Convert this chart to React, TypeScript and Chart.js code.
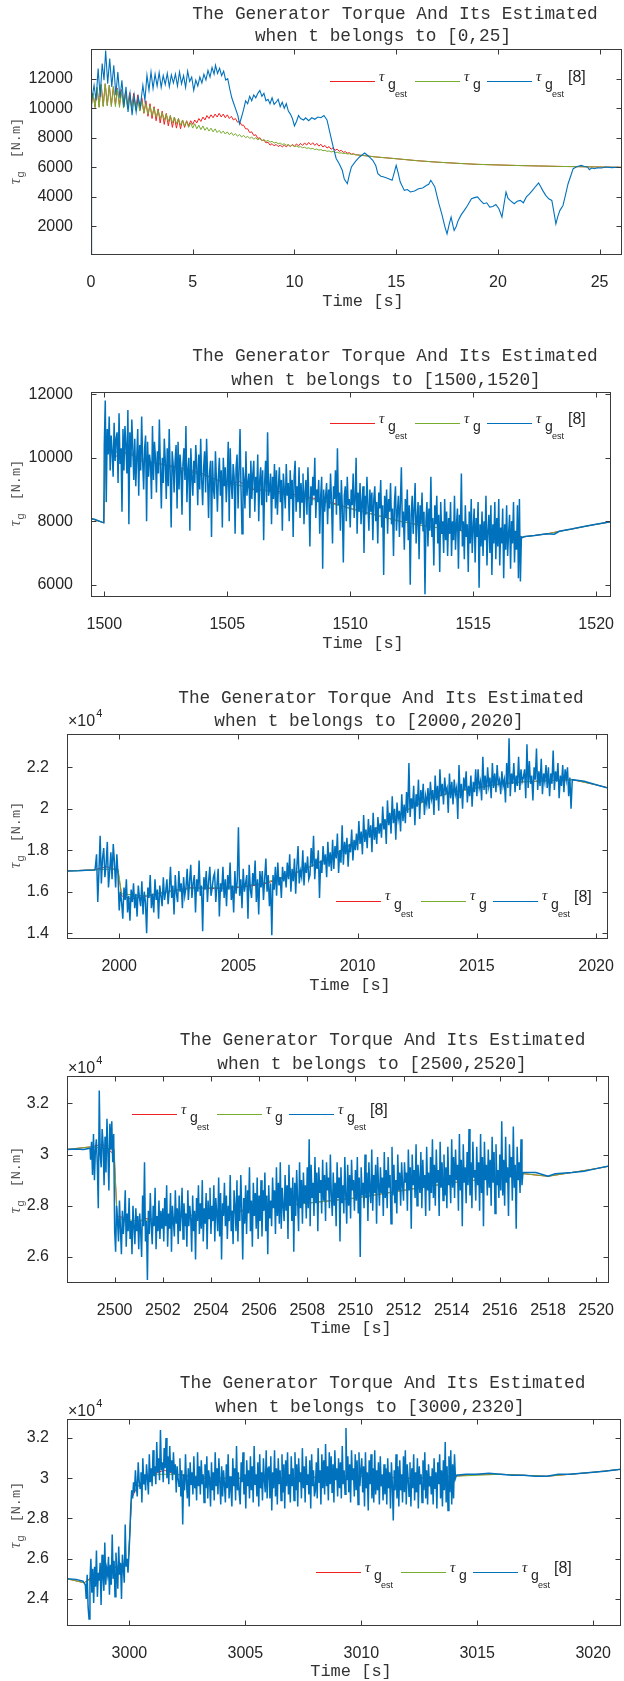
import React, { useEffect, useRef } from "react";
import { Chart, registerables } from "chart.js";
Chart.register(...registerables);

const SANS = "'Liberation Sans', Arial, Helvetica, sans-serif";
const MONO = "'Liberation Mono', 'Courier New', monospace";
const SERIF = "'Liberation Serif', 'Times New Roman', serif";
const RED = "rgb(240,32,32)";
const GREEN = "#77ac30";
const BLUE = "#0072bd";
const INK = "#262626";

// ================= Panel 1 : t in [0,25] =================
const P1_X_TICKS = [0, 5, 10, 15, 20, 25];
const P1_Y_TICKS = [2000, 4000, 6000, 8000, 10000, 12000];
const P1_OSC_T0 = 0;
const P1_OSC_DT = 0.1;
const P1_GREEN_OSC = [
  10000, 11000, 10050, 11400, 10050, 11600, 10100, 11650, 10150, 11550,
  10100, 11450, 10100, 11300, 10050, 11150, 10000, 11000, 9950, 10900,
  9900, 10750, 9850, 10600, 9800, 10450, 9700, 10300, 9600, 10150,
  9500, 10000, 9400, 9850, 9300, 9700, 9200, 9600, 9100, 9500,
  9000, 9400, 8950, 9300, 8850, 9200, 8800, 9100, 8700, 9000,
  8650, 8950, 8600, 8850, 8550, 8800, 8500, 8700, 8450, 8650,
  8400, 8600, 8350, 8500, 8300, 8450, 8250, 8400, 8200, 8350,
  8150, 8280, 8100, 8220, 8050, 8160, 8000, 8100, 7950, 8050,
  7900, 8000, 7850, 7950, 7800, 7880, 7750, 7820, 7700, 7760,
  7640, 7700, 7590, 7640, 7540, 7590, 7490, 7540, 7440, 7490,
  7400, 7440, 7360, 7400, 7320, 7360, 7280, 7320, 7240, 7280,
  7200, 7240, 7160, 7200, 7120, 7150, 7080, 7110, 7040, 7070,
  7000, 7020, 6960, 6980, 6930, 6950, 6900, 6920, 6870, 6880,
  6850,
];
const P1_RED_OSC = [
  10000, 11000, 10050, 11400, 10100, 11600, 10150, 11650, 10200, 11550,
  10200, 11450, 10250, 11350, 10200, 11250, 10200, 11150, 10150, 11050,
  10100, 11000, 10000, 10900, 9850, 10700, 9650, 10500, 9450, 10300,
  9300, 10100, 9150, 9950, 9000, 9800, 8900, 9650, 8800, 9500,
  8700, 9400, 8650, 9300, 8600, 9200, 8700, 9150, 8800, 9150,
  8900, 9200, 9000, 9300, 9100, 9400, 9200, 9500, 9300, 9550,
  9350, 9600, 9400, 9650, 9400, 9600, 9350, 9550, 9300, 9450,
  9200, 9300, 9050, 9100, 8850, 8850, 8600, 8600, 8350, 8400,
  8150, 8200, 7950, 8000, 7800, 7850, 7650, 7700, 7500, 7600,
  7450, 7550, 7400, 7500, 7380, 7500, 7380, 7520, 7400, 7550,
  7420, 7580, 7450, 7620, 7480, 7650, 7500, 7680, 7520, 7660,
  7480, 7620, 7430, 7560, 7370, 7480, 7300, 7400, 7220, 7320,
  7150, 7230, 7080, 7150, 7010, 7060, 6950, 6990, 6890, 6920,
  6850,
];
const P1_TAIL = [
  [13.5, 6780], [14, 6700], [14.5, 6640], [15, 6580], [16, 6450], [17, 6350], [18, 6270],
  [19, 6200], [20, 6160], [21, 6120], [22, 6090], [23, 6060], [24, 6040], [25, 6020], [26.1, 6000],
];
const P1_BLUE = [
  [0, 0], [0.03, 10500], [0.15, 11550], [0.25, 10530], [0.35, 12680], [0.45, 10760], [0.55, 13020],
  [0.64, 11890], [0.72, 13900], [0.82, 11660], [0.92, 13350], [1.02, 11440], [1.12, 12900],
  [1.22, 10870], [1.32, 12450], [1.42, 10650], [1.52, 11890], [1.62, 10080], [1.72, 11440],
  [1.82, 9740], [1.92, 10980], [2.02, 9520], [2.12, 10870], [2.22, 9740], [2.32, 10760],
  [2.42, 10080], [2.55, 11550], [2.65, 10530], [2.75, 12230], [2.85, 11210], [2.95, 12450],
  [3.05, 11320], [3.15, 12300], [3.25, 11500], [3.35, 12400], [3.45, 11400], [3.55, 12200],
  [3.65, 11600], [3.75, 12350], [3.85, 11450], [3.95, 12250], [4.05, 11700], [4.15, 12300],
  [4.25, 11500], [4.35, 12450], [4.45, 11650], [4.55, 12200], [4.65, 11400], [4.75, 12500],
  [4.85, 11800], [4.95, 12100], [5.05, 11200], [5.15, 11900], [5.25, 11500], [5.35, 12100],
  [5.45, 11700], [5.55, 12300], [5.65, 11900], [5.75, 12550], [5.85, 12100], [5.95, 12750],
  [6.05, 12300], [6.12, 12900], [6.22, 12350], [6.32, 12700], [6.42, 12200], [6.52, 12500],
  [6.62, 11900], [6.72, 12000], [6.82, 11300], [6.92, 10700], [7.02, 10300], [7.12, 9900],
  [7.22, 9500], [7.3, 8950], [7.4, 9400], [7.5, 9900], [7.6, 10500], [7.7, 10300], [7.8, 10800],
  [7.9, 10500], [8.0, 10900], [8.1, 10700], [8.2, 11000], [8.3, 11200], [8.4, 10800], [8.5, 11000],
  [8.6, 10500], [8.7, 10600], [8.8, 10300], [8.9, 10700], [9.0, 10250], [9.1, 10400], [9.2, 10600],
  [9.3, 10100], [9.4, 10400], [9.5, 10000], [9.6, 10300], [9.7, 9800], [9.8, 9600], [9.9, 9300],
  [10.0, 8800], [10.1, 9100], [10.2, 9500], [10.3, 9300], [10.45, 9200], [10.55, 9350], [10.7, 9150],
  [10.85, 9350], [11.0, 9250], [11.15, 9400], [11.3, 9350], [11.45, 9500], [11.6, 9200], [11.75, 8300],
  [11.9, 7400], [12.05, 6600], [12.2, 6240], [12.35, 5800], [12.45, 5200], [12.6, 4890], [12.7, 5500],
  [12.8, 6020], [13.0, 6400], [13.2, 6700], [13.45, 6970], [13.6, 6800], [13.85, 6470], [14.0, 6100],
  [14.1, 5570], [14.25, 5400], [14.4, 5340], [14.6, 5250], [14.8, 5120], [14.9, 5600], [15.0, 6130],
  [15.1, 5600], [15.2, 5000], [15.4, 4440], [15.55, 4500], [15.7, 4330], [15.9, 4400], [16.1, 4550],
  [16.3, 4600], [16.5, 4780], [16.6, 4850], [16.7, 5120], [16.8, 4900], [16.9, 4670], [17.0, 4100],
  [17.1, 3540], [17.25, 2800], [17.4, 1960], [17.5, 1500], [17.6, 2100], [17.7, 2630], [17.8, 2000],
  [17.85, 1730], [17.95, 2000], [18.05, 2410], [18.2, 2800], [18.35, 3090], [18.5, 3400], [18.7, 3870],
  [18.85, 3950], [19.0, 4000], [19.15, 3750], [19.3, 3540], [19.45, 3600], [19.6, 3310], [19.75, 3350],
  [19.9, 3490], [20.05, 3200], [20.2, 2630], [20.3, 3500], [20.4, 4330], [20.5, 3900], [20.6, 3760],
  [20.8, 3540], [20.95, 3700], [21.1, 3760], [21.25, 3600], [21.4, 4000], [21.55, 4200], [21.7, 4440],
  [21.85, 4700], [22.0, 4940], [22.1, 4700], [22.2, 4440], [22.35, 4100], [22.5, 3870], [22.65, 3760],
  [22.75, 3000], [22.85, 2180], [22.95, 2700], [23.05, 3090], [23.2, 3420], [23.3, 4000], [23.45, 4890],
  [23.6, 5500], [23.7, 5910], [23.9, 6050], [24.1, 6130], [24.25, 6050], [24.4, 6020], [24.5, 5840],
  [24.6, 5950], [24.75, 5900], [24.9, 5970], [25.1, 5950], [25.3, 6020], [25.6, 5980], [25.9, 6000],
  [26.1, 5970],
];

// ================= Panel 2 : t in [1500,1520] =================
const P2_X_TICKS = [1500, 1505, 1510, 1515, 1520];
const P2_Y_TICKS = [6000, 8000, 10000, 12000];
const P2_RED = [
  [1499.46, 8080], [1499.98, 7950], [1500.05, 10300], [1500.5, 10050], [1501, 10200], [1501.5, 9900],
  [1502, 9850], [1503, 9700], [1504, 9500], [1505, 9150], [1505.5, 9250], [1506, 9000], [1507, 8950],
  [1508, 8800], [1509, 8650], [1510, 8400], [1511, 8200], [1512, 8000], [1513, 7850], [1514, 7750],
  [1515, 7650], [1516, 7550], [1517, 7500], [1517.5, 7550], [1518, 7600], [1518.5, 7680], [1519, 7750],
  [1519.5, 7830], [1520, 7900], [1520.59, 7980],
];
const P2_GREEN = [
  [1499.46, 8080], [1499.98, 7950], [1500.05, 10250], [1501, 10100], [1502, 9850], [1503, 9650],
  [1504, 9450], [1505, 9200], [1506, 9050], [1507, 8900], [1508, 8750], [1509, 8600], [1510, 8400],
  [1511, 8200], [1512, 8000], [1513, 7850], [1514, 7750], [1515, 7650], [1516, 7550], [1517, 7500],
  [1518, 7600], [1519, 7750], [1520, 7900], [1520.59, 7980],
];
const P2_BLUE_PRE = [[1499.46, 8080], [1499.6, 8060], [1499.7, 8030], [1499.8, 8000], [1499.9, 7970], [1499.98, 7950]];
const P2_NOISE_T0 = 1500;
const P2_NOISE_DT = 0.04;
const P2_NOISE = [
  10400, 11800, 8600, 10900, 10100, 11300, 9600, 10700, 10200, 9400, 11100, 9900, 10600, 10800, 9200, 11400, 9800, 10300, 8300, 10900, 9600, 11000, 10400, 9500, 11500,
  7900, 10800, 9700, 11200, 10300, 9300, 10600, 9100, 10000, 10900, 8800, 10400, 9600, 11300, 9900, 9000, 10300, 10700, 8000, 10500, 9400, 10100, 9800, 8700, 11000,
  9300, 10500, 10000, 8900, 10200, 9500, 11200, 9700, 8400, 10000, 9200, 10600, 9900, 8700, 10300, 9100, 10900, 9500, 7800, 10200, 9800, 8900, 9900, 10400, 8400,
  10500, 9000, 10100, 9600, 8200, 9800, 10300, 9300, 11000, 8600, 9600, 10000, 7700, 10300, 9400, 8800, 9900, 9200, 10400, 9700, 8500, 10100, 9000, 10600, 9300,
  8500, 9700, 10200, 8900, 10600, 9400, 8100, 9500, 9900, 7500, 9900, 9000, 8700, 10200, 9300, 8300, 9400, 10000, 8800, 9600, 7800, 10000, 9100, 9700, 8600,
  9300, 10500, 8000, 10300, 9200, 8700, 9800, 9400, 7600, 9700, 10100, 8400, 9600, 10900, 9000, 7600, 9700, 9300, 8400, 10200, 8800, 9200, 9500, 8100, 9900,
  8700, 9500, 9900, 8300, 9400, 8900, 10100, 8000, 9300, 9700, 8500, 9600, 7400, 9200, 9900, 8600, 10800, 8800, 9000, 9500, 7900, 9400, 8700, 9800, 8400,
  9600, 8200, 9100, 9700, 8600, 9300, 7700, 9500, 9000, 8400, 9800, 8800, 9200, 8000, 9600, 8700, 9300, 7500, 9400, 9900, 8300, 9100, 8600, 9700, 8100,
  9200, 8600, 9500, 7900, 8900, 9300, 8200, 9700, 8700, 7200, 9100, 8500, 9400, 8800, 10000, 8100, 9000, 8600, 9300, 7600, 8800, 9400, 6500, 9000, 8300,
  8800, 9200, 7900, 9000, 8400, 9500, 8600, 7300, 9100, 8700, 9600, 8200, 10300, 8500, 8900, 7700, 9300, 8400, 6700, 8800, 9100, 8000, 9400, 8500, 8700,
  7800, 9000, 8500, 9500, 8100, 8700, 10000, 7600, 8900, 8300, 9200, 7900, 8600, 9100, 7000, 8800, 8200, 9400, 8500, 7700, 9000, 8300, 8900, 7400, 8700,
  9100, 8000, 8600, 7300, 8900, 8400, 9300, 7800, 8500, 6300, 8800, 8100, 9000, 7600, 8700, 8300, 9200, 7900, 8400, 6900, 8600, 9100, 7700, 8300, 8800,
  7500, 8600, 9700, 7800, 8300, 7100, 8700, 8000, 9000, 7400, 8500, 6000, 8200, 8800, 7600, 8400, 9200, 7300, 8100, 8600, 6800, 8500, 7900, 8900, 7700,
  8300, 5700, 8000, 8600, 7200, 8400, 7700, 9400, 7500, 8100, 6600, 8500, 7900, 8800, 7300, 8200, 6400, 8600, 7600, 8000, 7000, 8700, 7400, 8300, 6900,
  8100, 7600, 8600, 6900, 8000, 7400, 8800, 7100, 7900, 8400, 6500, 8200, 7700, 9500, 7200, 8000, 6800, 8500, 7500, 7900, 6400, 8300, 7300, 8700, 7000,
  7800, 8400, 6700, 8100, 7500, 8600, 5900, 7900, 7200, 8300, 6900, 8000, 7400, 8800, 6600, 7700, 8200, 7000, 8500, 6300, 7900, 7300, 8600, 6800, 8100,
  7200, 8700, 6600, 7800, 7300, 8400, 6200, 7900, 7100, 8500, 6900, 7600, 8200, 6500, 8000, 7300, 8600, 6700, 7700, 7100, 8500, 6200, 8700, 6100, 7500,
];
const P2_BLUE_POST = [
  [1517.0, 7480], [1517.1, 7520], [1517.5, 7550], [1518, 7600], [1518.3, 7590], [1518.5, 7680],
  [1519, 7750], [1519.5, 7830], [1520, 7900], [1520.59, 7980],
];

// ================= Panel 3 : t in [2000,2020] (x10^4) =================
const P3_X_TICKS = [2000, 2005, 2010, 2015, 2020];
const P3_Y_TICKS = [1.4, 1.6, 1.8, 2, 2.2];
const P3_RED = [
  [1997.81, 1.7], [1998.9, 1.705], [1999.5, 1.72], [1999.95, 1.7], [2000.1, 1.58], [2000.5, 1.565],
  [2001, 1.575], [2002, 1.6], [2003, 1.62], [2004, 1.615], [2005, 1.62], [2006, 1.635], [2007, 1.67],
  [2008, 1.72], [2009, 1.77], [2010, 1.85], [2011, 1.92], [2012, 1.99], [2013, 2.05], [2014, 2.08],
  [2015, 2.1], [2016, 2.12], [2017, 2.13], [2018, 2.135], [2019, 2.14], [2020, 2.115], [2020.5, 2.1],
];
const P3_GREEN = [
  [1997.81, 1.7], [1999, 1.705], [1999.95, 1.71], [2000.1, 1.59], [2001, 1.58], [2002, 1.6],
  [2003, 1.615], [2004, 1.62], [2005, 1.625], [2006, 1.64], [2007, 1.675], [2008, 1.72], [2009, 1.78],
  [2010, 1.85], [2011, 1.925], [2012, 1.99], [2013, 2.045], [2014, 2.08], [2015, 2.1], [2016, 2.12],
  [2017, 2.13], [2018, 2.135], [2019, 2.14], [2020, 2.115], [2020.5, 2.1],
];
const P3_BLUE_PRE = [[1997.81, 1.7], [1998.3, 1.701], [1998.6, 1.703], [1998.98, 1.705]];
const P3_NOISE_T0 = 1999;
const P3_NOISE_DT = 0.05;
const P3_NOISE = [
  1.72, 1.78, 1.55, 1.70, 1.87, 1.64, 1.76, 1.81, 1.67, 1.73, 1.84, 1.62, 1.70, 1.79, 1.66, 1.83, 1.74, 1.62, 1.78, 1.68,
  1.51, 1.60, 1.55, 1.47, 1.62, 1.56, 1.66, 1.50, 1.58, 1.46, 1.61, 1.55, 1.64, 1.52, 1.59, 1.48, 1.63, 1.57, 1.53, 1.65,
  1.49, 1.60, 1.55, 1.40, 1.62, 1.57, 1.68, 1.52, 1.59, 1.50, 1.66, 1.56, 1.61, 1.47, 1.63, 1.58, 1.53, 1.67, 1.56, 1.60,
  1.66, 1.54, 1.61, 1.72, 1.57, 1.63, 1.49, 1.68, 1.59, 1.55, 1.70, 1.60, 1.64, 1.52, 1.67, 1.58, 1.62, 1.71, 1.56, 1.65,
  1.73, 1.57, 1.64, 1.68, 1.50, 1.66, 1.60, 1.75, 1.58, 1.63, 1.41, 1.67, 1.61, 1.70, 1.55, 1.65, 1.72, 1.58, 1.62, 1.67,
  1.69, 1.55, 1.63, 1.71, 1.48, 1.64, 1.60, 1.72, 1.57, 1.66, 1.53, 1.68, 1.61, 1.74, 1.56, 1.63, 1.50, 1.70, 1.59, 1.65,
  1.91, 1.58, 1.66, 1.52, 1.71, 1.60, 1.64, 1.68, 1.47, 1.73, 1.61, 1.57, 1.69, 1.63, 1.75, 1.55, 1.66, 1.49, 1.70, 1.62,
  1.70, 1.56, 1.66, 1.76, 1.60, 1.68, 1.53, 1.64, 1.39, 1.68, 1.61, 1.72, 1.58, 1.74, 1.63, 1.67, 1.57, 1.72, 1.65, 1.70,
  1.62, 1.74, 1.66, 1.78, 1.60, 1.71, 1.65, 1.76, 1.59, 1.72, 1.82, 1.64, 1.70, 1.67, 1.80, 1.63, 1.74, 1.69, 1.77, 1.66,
  1.68, 1.81, 1.72, 1.87, 1.66, 1.76, 1.71, 1.80, 1.57, 1.75, 1.69, 1.82, 1.73, 1.78, 1.67, 1.84, 1.72, 1.79, 1.70, 1.85,
  1.71, 1.82, 1.76, 1.88, 1.69, 1.80, 1.74, 1.92, 1.73, 1.84, 1.78, 1.86, 1.72, 1.83, 1.79, 1.90, 1.75, 1.85, 1.80, 1.88,
  1.80, 1.94, 1.83, 1.89, 1.78, 1.97, 1.84, 1.90, 1.81, 1.95, 1.86, 1.92, 1.79, 1.98, 1.85, 1.91, 1.83, 1.96, 1.88, 1.93,
  1.86, 2.01, 1.90, 1.95, 1.83, 2.04, 1.92, 1.98, 1.88, 2.06, 1.93, 2.00, 1.85, 2.03, 1.95, 1.99, 1.89, 2.07, 1.94, 2.02,
  1.93, 2.08, 1.98, 2.22, 1.96, 2.05, 2.00, 2.11, 1.92, 2.07, 2.01, 2.14, 1.95, 2.09, 2.03, 2.12, 1.97, 2.06, 2.02, 2.10,
  2.00, 2.13, 2.05, 2.09, 1.97, 2.16, 2.04, 2.11, 1.99, 2.19, 2.06, 2.12, 2.02, 2.15, 2.08, 2.10, 1.98, 2.17, 2.05, 2.13,
  2.02, 2.14, 2.07, 2.10, 1.95, 2.21, 2.05, 2.12, 2.00, 2.15, 2.09, 2.18, 2.03, 2.11, 2.06, 2.16, 2.01, 2.13, 2.08, 2.19,
  2.06, 2.19, 2.10, 2.13, 2.04, 2.25, 2.09, 2.16, 2.07, 2.20, 2.11, 2.15, 2.05, 2.22, 2.10, 2.17, 2.08, 2.21, 2.12, 2.14,
  2.07, 2.18, 2.11, 2.14, 2.03, 2.22, 2.10, 2.34, 2.06, 2.17, 2.12, 2.22, 2.08, 2.16, 2.11, 2.25, 2.09, 2.19, 2.13, 2.15,
  2.19, 2.05, 2.31, 2.10, 2.23, 2.12, 2.16, 2.04, 2.20, 2.14, 2.29, 2.09, 2.18, 2.11, 2.24, 2.07, 2.17, 2.13, 2.21, 2.10,
  2.20, 2.06, 2.17, 2.12, 2.28, 2.09, 2.18, 2.13, 2.22, 2.05, 2.16, 2.11, 2.21, 2.08, 2.19, 2.14, 2.20, 2.06, 2.15, 2.00,
];
const P3_BLUE_POST = [[2019.0, 2.14], [2019.5, 2.132], [2020, 2.115], [2020.5, 2.1]];

// ================= Panel 4 : t in [2500,2520] (x10^4) =================
const P4_X_TICKS = [2500, 2502, 2504, 2506, 2508, 2510, 2512, 2514, 2516, 2518, 2520];
const P4_Y_TICKS = [2.6, 2.8, 3, 3.2];
const P4_RED = [
  [2498.02, 3.02], [2499, 3.03], [2499.5, 3.04], [2499.98, 3.0], [2500.1, 2.76], [2500.5, 2.75],
  [2500.8, 2.72], [2501.2, 2.75], [2502, 2.745], [2503, 2.76], [2504, 2.77], [2505, 2.775], [2506, 2.79],
  [2506.5, 2.81], [2507, 2.8], [2508, 2.81], [2509, 2.82], [2510, 2.83], [2511, 2.845], [2512, 2.86],
  [2513, 2.875], [2514, 2.89], [2515, 2.9], [2516, 2.91], [2517, 2.925], [2518, 2.915], [2519, 2.93],
  [2520, 2.945], [2520.54, 2.955],
];
const P4_GREEN = [
  [2498.02, 3.02], [2499, 3.03], [2499.98, 3.02], [2500.1, 2.75], [2501, 2.74], [2502, 2.75],
  [2504, 2.77], [2506, 2.79], [2508, 2.81], [2510, 2.83], [2512, 2.86], [2514, 2.89], [2516, 2.91],
  [2517, 2.925], [2518, 2.915], [2519, 2.93], [2520, 2.945], [2520.54, 2.955],
];
const P4_BLUE_PRE = [[2498.02, 3.02], [2498.4, 3.022], [2498.7, 3.02], [2498.98, 3.025]];
const P4_NOISE_T0 = 2499;
const P4_NOISE_DT = 0.04;
const P4_NOISE = [
  2.98, 3.05, 2.92, 3.08, 2.90, 3.02, 3.06, 2.96, 2.79, 3.25, 3.00, 2.95, 3.10, 3.04, 2.88, 3.07, 2.93, 3.14, 3.01, 2.86, 3.12, 3.02, 3.13, 2.97, 3.08,
  2.70, 2.62, 2.80, 2.74, 2.66, 2.82, 2.71, 2.61, 2.78, 2.69, 2.75, 2.86, 2.64, 2.77, 2.70, 2.83, 2.67, 2.74, 2.61, 2.80, 2.72, 2.65, 2.79, 2.70, 2.76,
  2.63, 2.77, 2.70, 2.60, 2.84, 2.72, 2.97, 2.66, 2.74, 2.51, 2.78, 2.69, 2.85, 2.73, 2.65, 2.80, 2.72, 2.87, 2.63, 2.76, 2.70, 2.82, 2.67, 2.78, 2.71,
  2.79, 2.66, 2.83, 2.72, 2.88, 2.64, 2.77, 2.71, 2.85, 2.62, 2.80, 2.74, 2.68, 2.86, 2.73, 2.79, 2.65, 2.84, 2.70, 2.76, 2.87, 2.67, 2.81, 2.72, 2.77,
  2.64, 2.86, 2.72, 2.80, 2.75, 2.62, 2.84, 2.70, 2.78, 2.59, 2.83, 2.74, 2.88, 2.69, 2.81, 2.71, 2.90, 2.66, 2.79, 2.73, 2.85, 2.63, 2.82, 2.75, 2.87,
  2.69, 2.80, 2.74, 2.88, 2.66, 2.83, 2.77, 2.70, 2.91, 2.68, 2.85, 2.59, 2.81, 2.76, 2.89, 2.72, 2.84, 2.67, 2.80, 2.74, 2.92, 2.70, 2.78, 2.65, 2.86,
  2.80, 2.70, 2.90, 2.66, 2.84, 2.74, 2.92, 2.78, 2.59, 2.83, 2.73, 2.88, 2.69, 2.86, 2.77, 2.95, 2.70, 2.82, 2.64, 2.89, 2.76, 2.85, 2.71, 2.91, 2.67,
  2.84, 2.74, 2.90, 2.68, 2.86, 2.78, 2.93, 2.70, 2.84, 2.61, 2.88, 2.75, 2.82, 2.72, 2.91, 2.79, 2.86, 2.69, 2.95, 2.76, 2.89, 2.73, 2.97, 2.71, 2.87,
  2.80, 2.74, 2.92, 2.78, 2.88, 2.67, 2.96, 2.80, 2.87, 2.74, 2.91, 2.62, 2.89, 2.76, 2.94, 2.82, 2.70, 2.97, 2.79, 2.90, 2.73, 2.93, 2.81, 2.88, 2.75,
  2.95, 2.79, 3.06, 2.72, 2.96, 2.83, 2.89, 2.76, 2.99, 2.81, 2.93, 2.70, 2.95, 2.85, 2.90, 2.77, 2.98, 2.82, 2.92, 2.74, 2.97, 2.86, 2.91, 2.79, 3.00,
  2.84, 2.76, 2.93, 2.80, 2.89, 2.72, 2.97, 2.83, 2.91, 2.66, 2.95, 2.81, 2.88, 2.77, 2.99, 2.84, 2.73, 2.96, 2.80, 2.92, 2.75, 2.98, 2.86, 2.90, 2.78,
  2.94, 2.82, 2.99, 2.77, 2.91, 2.60, 2.95, 2.84, 2.89, 2.79, 3.00, 2.83, 2.93, 2.74, 2.97, 2.86, 2.81, 3.02, 2.78, 2.92, 2.85, 2.96, 2.73, 2.99, 2.88,
  2.80, 2.95, 2.85, 2.91, 2.76, 3.01, 2.83, 2.94, 2.79, 2.99, 2.87, 2.92, 2.73, 3.03, 2.84, 2.96, 2.81, 2.90, 2.77, 3.00, 2.86, 2.93, 2.80, 2.97, 2.88,
  2.82, 2.97, 2.89, 2.93, 2.78, 3.02, 2.86, 2.95, 2.71, 3.00, 2.88, 2.94, 2.83, 3.04, 2.80, 2.96, 2.90, 2.85, 3.01, 2.79, 2.98, 2.87, 2.92, 2.76, 3.03,
  2.86, 2.93, 2.78, 2.99, 2.85, 3.06, 2.83, 2.96, 2.80, 3.02, 2.89, 2.94, 2.76, 3.05, 2.87, 2.97, 2.82, 3.00, 2.84, 2.95, 2.79, 3.03, 2.88, 2.92, 2.81,
  3.06, 2.87, 2.99, 2.83, 3.02, 2.90, 2.96, 2.78, 3.08, 2.86, 2.98, 2.72, 3.04, 2.89, 2.95, 2.81, 3.01, 2.88, 3.10, 2.84, 2.97, 2.79, 3.05, 2.91, 2.94,
  2.82, 3.03, 2.88, 2.97, 2.78, 3.08, 2.85, 2.99, 2.72, 3.05, 2.90, 2.96, 2.84, 3.02, 2.87, 2.98, 2.80, 3.07, 2.89, 3.01, 2.77, 3.04, 2.88, 2.94, 2.83,
  3.00, 2.86, 3.13, 2.84, 2.98, 2.80, 3.07, 2.89, 2.95, 2.76, 3.04, 2.91, 2.99, 2.82, 3.11, 2.87, 2.96, 2.71, 3.03, 2.90, 2.97, 2.85, 3.06, 2.88, 2.93,
];
const P4_BLUE_POST = [
  [2517.0, 2.93], [2517.5, 2.93], [2518, 2.915], [2518.3, 2.925], [2519, 2.93], [2519.5, 2.935],
  [2520, 2.945], [2520.54, 2.955],
];

// ================= Panel 5 : t in [3000,2320] (x10^4) =================
const P5_X_TICKS = [3000, 3005, 3010, 3015, 3020];
const P5_Y_TICKS = [2.4, 2.6, 2.8, 3, 3.2];
const P5_RED = [
  [2997.31, 2.5], [2998.05, 2.48], [2998.5, 2.52], [2999, 2.54], [2999.5, 2.56], [2999.95, 2.58],
  [3000.1, 2.9], [3000.3, 2.95], [3000.6, 2.99], [3001, 3.02], [3001.5, 3.04], [3002, 3.02], [3003, 3.0],
  [3004, 3.0], [3005, 3.0], [3006, 2.995], [3007, 3.0], [3008, 3.005], [3009, 3.01], [3010, 3.01],
  [3011, 3.005], [3012, 3.0], [3013, 3.0], [3014, 3.01], [3015, 3.02], [3016, 3.02], [3017, 3.015],
  [3018, 3.01], [3019, 3.02], [3020, 3.03], [3021.2, 3.045],
];
const P5_GREEN = [
  [2997.31, 2.5], [2998.05, 2.48], [2999, 2.545], [2999.95, 2.58], [3000.1, 2.92], [3000.5, 2.98],
  [3001, 3.02], [3002, 3.02], [3004, 3.0], [3006, 3.0], [3008, 3.005], [3010, 3.01], [3012, 3.0],
  [3014, 3.01], [3016, 3.02], [3018, 3.01], [3020, 3.03], [3021.2, 3.045],
];
const P5_BLUE_PRE = [[2997.31, 2.5], [2997.7, 2.497], [2998.0, 2.488], [2998.05, 2.48]];
const P5_NOISE_T0 = 2998.1;
const P5_NOISE_DT = 0.04;
const P5_NOISE = [
  2.47, 2.40, 2.52, 2.36, 2.30, 2.49, 2.60, 2.43, 2.55, 2.38, 2.56, 2.46, 2.64, 2.41, 2.53, 2.49, 2.58, 2.37, 2.62, 2.51, 2.44, 2.68, 2.47, 2.55,
  2.52, 2.61, 2.42, 2.57, 2.47, 2.72, 2.50, 2.59, 2.41, 2.63, 2.54, 2.45, 2.66, 2.52, 2.58, 2.40, 2.62, 2.55, 2.48, 2.77, 2.56, 2.60, 2.53, 2.62,
  2.72, 2.86, 2.94, 2.90, 2.98, 2.93, 3.04, 2.96, 2.91, 3.08, 2.99, 2.95, 3.03, 2.88, 3.10, 2.97, 3.02, 2.94, 3.07, 3.00, 2.92, 3.12, 2.98, 3.05, 2.96,
  3.14, 3.01, 3.06, 2.97, 3.18, 3.03, 3.10, 2.99, 3.24, 3.04, 3.08, 2.98, 3.15, 3.05, 3.20, 3.00, 3.11, 2.97, 3.16, 3.03, 3.09, 2.99, 3.13, 3.02, 3.07,
  2.93, 3.06, 3.00, 2.96, 3.10, 2.91, 3.04, 2.77, 3.02, 2.94, 3.12, 2.98, 2.90, 3.05, 2.86, 3.08, 2.97, 3.03, 2.92, 3.11, 2.95, 3.01, 2.89, 3.13, 2.96,
  3.06, 2.92, 3.09, 2.97, 3.02, 2.88, 3.07, 2.95, 3.11, 2.90, 3.04, 2.99, 2.86, 3.08, 2.94, 3.03, 2.89, 3.13, 2.96, 3.05, 2.92, 3.10, 2.98, 2.87, 3.06,
  2.91, 3.04, 2.97, 2.88, 3.07, 2.95, 3.12, 2.90, 3.01, 2.94, 2.86, 3.10, 2.96, 3.05, 2.89, 3.16, 2.94, 3.03, 2.92, 2.87, 3.08, 2.98, 3.13, 2.92, 3.02,
  2.85, 3.09, 2.96, 3.04, 2.90, 3.11, 2.94, 3.06, 2.88, 3.16, 2.97, 3.02, 2.91, 3.08, 2.86, 3.12, 2.95, 3.03, 2.89, 3.10, 2.99, 2.93, 3.14, 2.90, 3.05,
  3.06, 2.90, 3.11, 2.84, 3.03, 2.95, 3.14, 2.91, 3.05, 2.87, 3.10, 2.97, 3.04, 2.89, 3.12, 2.93, 3.07, 2.85, 3.09, 2.96, 3.13, 2.92, 3.02, 2.88, 3.11,
  2.96, 3.05, 2.89, 3.13, 2.94, 3.07, 2.86, 3.10, 2.98, 3.03, 2.90, 3.15, 2.95, 3.06, 2.88, 3.11, 2.97, 3.02, 2.92, 3.09, 2.85, 3.12, 2.96, 3.04, 2.91,
  2.94, 3.08, 2.90, 3.15, 2.98, 3.04, 2.87, 3.12, 2.95, 3.09, 2.92, 3.17, 2.96, 3.06, 2.89, 3.13, 2.97, 3.11, 2.93, 3.07, 2.88, 3.14, 2.99, 3.05, 2.91,
  3.10, 2.95, 3.08, 2.90, 3.16, 2.97, 3.04, 2.92, 3.25, 2.99, 3.11, 2.93, 3.07, 2.88, 3.14, 2.99, 3.05, 2.91, 3.12, 2.94, 3.09, 2.87, 3.13, 2.96, 3.04,
  3.10, 2.93, 3.06, 2.86, 3.13, 2.95, 3.03, 2.84, 3.09, 2.97, 3.12, 2.90, 3.05, 2.88, 3.14, 2.92, 3.04, 2.94, 3.08, 2.87, 3.11, 2.96, 3.02, 2.89, 3.07,
  2.92, 3.05, 2.87, 3.10, 2.95, 3.03, 2.85, 3.08, 2.97, 2.79, 3.04, 2.94, 3.12, 2.90, 3.06, 2.86, 3.09, 2.94, 3.02, 2.88, 3.11, 2.93, 3.14, 2.87, 3.07,
  3.00, 2.91, 3.08, 2.86, 3.05, 2.95, 3.12, 2.89, 3.03, 2.93, 3.10, 2.85, 3.06, 2.97, 3.02, 2.88, 3.09, 2.94, 3.13, 2.90, 3.04, 2.87, 3.07, 2.96, 3.01,
  2.92, 3.05, 2.87, 3.10, 2.95, 3.03, 2.85, 3.08, 2.97, 3.12, 2.90, 3.04, 2.86, 3.09, 2.94, 3.18, 2.88, 3.06, 2.84, 3.11, 2.93, 3.14, 2.87, 3.07, 2.90, 3.12, 3.00,
];
const P5_BLUE_POST = [
  [3014.1, 3.015], [3014.5, 3.02], [3015, 3.02], [3015.5, 3.025], [3016, 3.02], [3016.5, 3.015],
  [3017, 3.015], [3017.5, 3.01], [3018, 3.01], [3018.5, 3.02], [3019, 3.02], [3019.5, 3.025],
  [3020, 3.03], [3020.5, 3.035], [3021.2, 3.045],
];

// ================= helpers =================
type Pt = { x: number; y: number };
const pairs = (a: number[][]): Pt[] => a.map(([x, y]) => ({ x, y }));
const sampled = (t0: number, dt: number, vals: number[]): Pt[] =>
  vals.map((y, i) => ({ x: Math.round((t0 + i * dt) * 1000) / 1000, y }));

type PanelCfg = {
  top: number; height: number;
  area: { l: number; t: number; r: number; b: number };
  xMin: number; xMax: number; yMin: number; yMax: number;
  xTicks: number[]; yTicks: number[];
  red: Pt[]; green: Pt[]; blue: Pt[]; blueWidth: number;
  title1: string; title2: string;
  t1: [number, number]; t2: [number, number];
  xlab: [number, number]; ylabY: number;
  legend: [number, number];
  exp: null | { y: number; ySup: number };
};

const TITLE1 = "The Generator Torque And Its Estimated";

const PANELS: PanelCfg[] = [
  {
    top: 0, height: 336, area: { l: 91, t: 49, r: 622, b: 255 },
    xMin: 0, xMax: 26.1, yMin: 70, yMax: 14000, xTicks: P1_X_TICKS, yTicks: P1_Y_TICKS,
    red: [...sampled(P1_OSC_T0, P1_OSC_DT, P1_RED_OSC), ...pairs(P1_TAIL)],
    green: [...sampled(P1_OSC_T0, P1_OSC_DT, P1_GREEN_OSC), ...pairs(P1_TAIL)],
    blue: pairs(P1_BLUE), blueWidth: 1.1,
    title1: TITLE1, title2: "when t belongs to [0,25]", t1: [395, 14], t2: [383, 36.7],
    xlab: [363, 301], ylabY: 151, legend: [330, 81], exp: null,
  },
  {
    top: 336, height: 344, area: { l: 91, t: 392, r: 622, b: 597 },
    xMin: 1499.46, xMax: 1520.59, yMin: 5610, yMax: 12070, xTicks: P2_X_TICKS, yTicks: P2_Y_TICKS,
    red: pairs(P2_RED), green: pairs(P2_GREEN),
    blue: [...pairs(P2_BLUE_PRE), ...sampled(P2_NOISE_T0, P2_NOISE_DT, P2_NOISE), ...pairs(P2_BLUE_POST)], blueWidth: 1.5,
    title1: TITLE1, title2: "when t belongs to [1500,1520]", t1: [395, 356], t2: [386, 380],
    xlab: [363, 643.5], ylabY: 493, legend: [330, 423], exp: null,
  },
  {
    top: 680, height: 340, area: { l: 67, t: 734, r: 619, b: 939 },
    xMin: 1997.81, xMax: 2020.5, yMin: 1.372, yMax: 2.36, xTicks: P3_X_TICKS, yTicks: P3_Y_TICKS,
    red: pairs(P3_RED), green: pairs(P3_GREEN),
    blue: [...pairs(P3_BLUE_PRE), ...sampled(P3_NOISE_T0, P3_NOISE_DT, P3_NOISE), ...pairs(P3_BLUE_POST)], blueWidth: 1.5,
    title1: TITLE1, title2: "when t belongs to [2000,2020]", t1: [381, 698.3], t2: [369, 721.7],
    xlab: [350, 985], ylabY: 835, legend: [336, 900.7], exp: { y: 720, ySup: 713 },
  },
  {
    top: 1020, height: 340, area: { l: 67, t: 1076, r: 621, b: 1283 },
    xMin: 2498.02, xMax: 2520.54, yMin: 2.498, yMax: 3.307, xTicks: P4_X_TICKS, yTicks: P4_Y_TICKS,
    red: pairs(P4_RED), green: pairs(P4_GREEN),
    blue: [...pairs(P4_BLUE_PRE), ...sampled(P4_NOISE_T0, P4_NOISE_DT, P4_NOISE), ...pairs(P4_BLUE_POST)], blueWidth: 1.5,
    title1: TITLE1, title2: "when t belongs to [2500,2520]", t1: [382.6, 1040.7], t2: [372, 1064.3],
    xlab: [351, 1328.3], ylabY: 1180, legend: [132, 1114.3], exp: { y: 1067, ySup: 1060 },
  },
  {
    top: 1360, height: 321, area: { l: 67, t: 1419, r: 621, b: 1626 },
    xMin: 2997.31, xMax: 3021.2, yMin: 2.265, yMax: 3.295, xTicks: P5_X_TICKS, yTicks: P5_Y_TICKS,
    red: pairs(P5_RED), green: pairs(P5_GREEN),
    blue: [...pairs(P5_BLUE_PRE), ...sampled(P5_NOISE_T0, P5_NOISE_DT, P5_NOISE), ...pairs(P5_BLUE_POST)], blueWidth: 1.5,
    title1: TITLE1, title2: "when t belongs to [3000,2320]", t1: [382.6, 1383.7], t2: [370, 1407.3],
    xlab: [351, 1671.5], ylabY: 1515, legend: [316, 1572.3], exp: { y: 1410, ySup: 1403 },
  },
];

function drawLegend(ctx: CanvasRenderingContext2D, x0: number, yl: number) {
  const entries = [
    { dx: 0, color: RED, est: true, ref8: false },
    { dx: 85, color: GREEN, est: false, ref8: false },
    { dx: 157, color: BLUE, est: true, ref8: true },
  ];
  ctx.textAlign = "left";
  ctx.textBaseline = "alphabetic";
  for (const e of entries) {
    const x = x0 + e.dx;
    ctx.strokeStyle = e.color;
    ctx.lineWidth = 1;
    ctx.beginPath();
    ctx.moveTo(x, Math.round(yl) + 0.5);
    ctx.lineTo(x + 45, Math.round(yl) + 0.5);
    ctx.stroke();
    ctx.fillStyle = INK;
    ctx.font = `italic 15px ${SERIF}`;
    ctx.fillText("τ", x + 49, yl - 0.5);
    ctx.font = `14px ${SANS}`;
    ctx.fillText("g", x + 58, yl + 8);
    if (e.est) {
      ctx.font = `9px ${SANS}`;
      ctx.fillText("est", x + 65, yl + 16);
    }
    if (e.ref8) {
      ctx.font = `16px ${SANS}`;
      ctx.fillText("[8]", x + 81, yl + 1);
    }
  }
}

function drawYLabel(ctx: CanvasRenderingContext2D, xBase: number, yc: number) {
  ctx.save();
  ctx.translate(xBase, yc);
  ctx.rotate(-Math.PI / 2);
  ctx.fillStyle = "#555";
  ctx.textAlign = "left";
  ctx.textBaseline = "alphabetic";
  const fTau = `italic 16px ${SERIF}`;
  const fG = `11px ${SANS}`;
  const fU = `13.5px ${MONO}`;
  ctx.font = fTau; const wT = ctx.measureText("τ").width;
  ctx.font = fG; const wG = ctx.measureText("g").width;
  ctx.font = fU; const wU = ctx.measureText("[N.m]").width;
  const gap = 13;
  const total = wT + 1 + wG + gap + wU;
  let x = -total / 2;
  ctx.font = fTau; ctx.fillText("τ", x, 0); x += wT + 1;
  ctx.font = fG; ctx.fillText("g", x, 4); x += wG + gap;
  ctx.font = fU; ctx.fillText("[N.m]", x, 0);
  ctx.restore();
}

function Panel({ cfg }: { cfg: PanelCfg }) {
  const ref = useRef<HTMLCanvasElement | null>(null);
  useEffect(() => {
    const canvas = ref.current;
    if (!canvas) return;
    const off = cfg.top;
    const W = 624;
    const a = cfg.area;
    const overlay = {
      id: "overlay",
      afterDraw(chart: any) {
        const ctx: CanvasRenderingContext2D = chart.ctx;
        const { left, right, top, bottom } = chart.chartArea;
        const xs = chart.scales.x;
        const ys = chart.scales.y;
        ctx.save();
        const L = Math.round(left) + 0.5, R = Math.round(right) - 0.5;
        const T = Math.round(top) + 0.5, B = Math.round(bottom) - 0.5;
        ctx.strokeStyle = "#3a3a3a";
        ctx.lineWidth = 1;
        ctx.strokeRect(L, T, R - L, B - T);
        const TL = 5;
        ctx.beginPath();
        for (const v of cfg.xTicks) {
          const px = Math.round(xs.getPixelForValue(v)) + 0.5;
          ctx.moveTo(px, B); ctx.lineTo(px, B - TL);
          ctx.moveTo(px, T); ctx.lineTo(px, T + TL);
        }
        for (const v of cfg.yTicks) {
          const py = Math.round(ys.getPixelForValue(v)) + 0.5;
          ctx.moveTo(L, py); ctx.lineTo(L + TL, py);
          ctx.moveTo(R, py); ctx.lineTo(R - TL, py);
        }
        ctx.stroke();
        ctx.fillStyle = "#333";
        ctx.textAlign = "center";
        ctx.textBaseline = "middle";
        ctx.font = `17.8px ${MONO}`;
        ctx.fillText(cfg.title1, cfg.t1[0], cfg.t1[1] - off);
        ctx.fillText(cfg.title2, cfg.t2[0], cfg.t2[1] - off);
        ctx.font = `17px ${MONO}`;
        ctx.fillText("Time [s]", cfg.xlab[0], cfg.xlab[1] - off);
        drawYLabel(ctx, 19.5, cfg.ylabY - off);
        if (cfg.exp) {
          ctx.fillStyle = INK;
          ctx.textAlign = "left";
          ctx.textBaseline = "alphabetic";
          ctx.font = `16px ${SANS}`;
          const w = ctx.measureText("×10").width;
          ctx.fillText("×10", 68, cfg.exp.y - off + 5.7);
          ctx.font = `11px ${SANS}`;
          ctx.fillText("4", 68 + w + 1, cfg.exp.ySup - off + 4);
        }
        drawLegend(ctx, cfg.legend[0], cfg.legend[1] - off);
        ctx.restore();
      },
    };
    const tickFont = { family: SANS, size: 16 };
    const chart = new Chart(canvas, {
      type: "line",
      data: {
        datasets: [
          { label: "blue", data: cfg.blue, borderColor: BLUE, borderWidth: cfg.blueWidth, pointRadius: 0, tension: 0, order: 0 },
          { label: "green", data: cfg.green, borderColor: GREEN, borderWidth: 1, pointRadius: 0, tension: 0, order: 1 },
          { label: "red", data: cfg.red, borderColor: RED, borderWidth: 1, pointRadius: 0, tension: 0, order: 2 },
        ],
      },
      options: {
        animation: false,
        responsive: false,
        devicePixelRatio: 1,
        events: [],
        layout: { autoPadding: false, padding: { left: 0, right: W - a.r, top: a.t - off, bottom: 0 } },
        plugins: { legend: { display: false }, tooltip: { enabled: false }, title: { display: false } },
        scales: {
          x: {
            type: "linear", min: cfg.xMin, max: cfg.xMax,
            grid: { display: false }, border: { display: false },
            ticks: { font: tickFont, color: INK, padding: 10, maxRotation: 0, autoSkip: false, callback: (v: any) => String(v) },
            afterBuildTicks: (s: any) => { s.ticks = cfg.xTicks.map((v) => ({ value: v })); },
            afterFit: (s: any) => { s.height = off + cfg.height - a.b; },
          },
          y: {
            type: "linear", min: cfg.yMin, max: cfg.yMax,
            grid: { display: false }, border: { display: false },
            ticks: { font: tickFont, color: INK, padding: 10, autoSkip: false, callback: (v: any) => String(v) },
            afterBuildTicks: (s: any) => { s.ticks = cfg.yTicks.map((v) => ({ value: v })); },
            afterFit: (s: any) => { s.width = a.l; },
          },
        },
      } as any,
      plugins: [overlay],
    });
    return () => chart.destroy();
  }, [cfg]);
  return (
    <canvas
      ref={ref}
      width={624}
      height={cfg.height}
      style={{ position: "absolute", left: 0, top: cfg.top, width: 624, height: cfg.height, display: "block" }}
    />
  );
}

export default function App() {
  return (
    <div style={{ position: "absolute", left: 0, top: 0, width: 624, height: 1681, background: "#fff", overflow: "hidden" }}>
      {PANELS.map((p, i) => (
        <Panel key={i} cfg={p} />
      ))}
    </div>
  );
}
